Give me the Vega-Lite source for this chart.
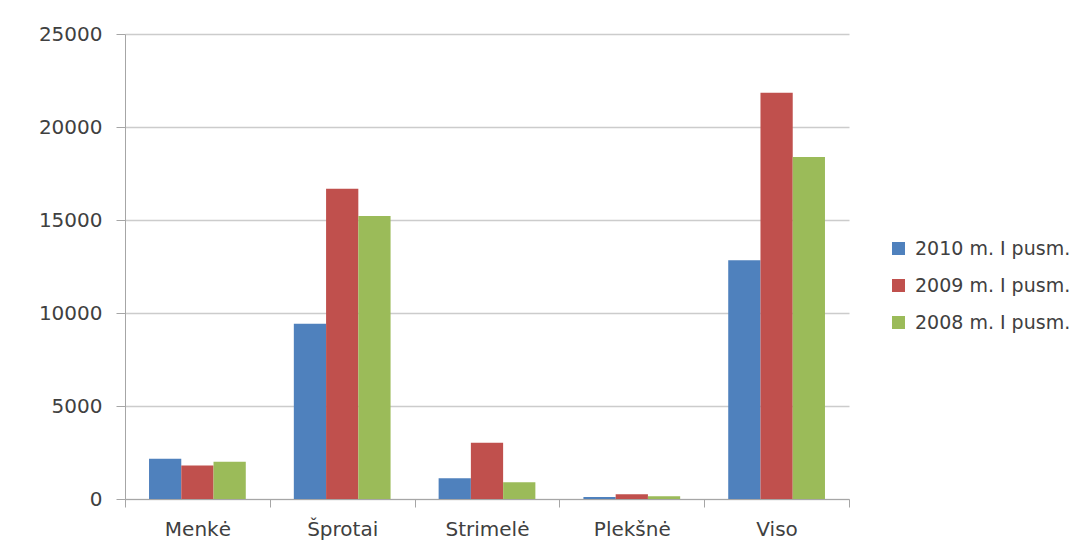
{
  "$schema": "https://vega.github.io/schema/vega-lite/v6.json",
  "width": 724,
  "height": 465,
  "autosize": "none",
  "padding": {"left": 125, "top": 34, "right": 237, "bottom": 56},
  "background": "white",
  "config": {
    "view": {"stroke": null},
    "font": "DejaVu Sans"
  },
  "data": {
    "values": [
      {"category": "Menkė", "series": "2010 m. I pusm.", "value": 2158},
      {"category": "Menkė", "series": "2009 m. I pusm.", "value": 1800},
      {"category": "Menkė", "series": "2008 m. I pusm.", "value": 1996},
      {"category": "Šprotai", "series": "2010 m. I pusm.", "value": 9417},
      {"category": "Šprotai", "series": "2009 m. I pusm.", "value": 16680},
      {"category": "Šprotai", "series": "2008 m. I pusm.", "value": 15210},
      {"category": "Strimelė", "series": "2010 m. I pusm.", "value": 1115},
      {"category": "Strimelė", "series": "2009 m. I pusm.", "value": 3020},
      {"category": "Strimelė", "series": "2008 m. I pusm.", "value": 900},
      {"category": "Plekšnė", "series": "2010 m. I pusm.", "value": 108},
      {"category": "Plekšnė", "series": "2009 m. I pusm.", "value": 250},
      {"category": "Plekšnė", "series": "2008 m. I pusm.", "value": 144},
      {"category": "Viso", "series": "2010 m. I pusm.", "value": 12840},
      {"category": "Viso", "series": "2009 m. I pusm.", "value": 21840},
      {"category": "Viso", "series": "2008 m. I pusm.", "value": 18390}
    ]
  },
  "mark": {"type": "bar"},
  "encoding": {
    "x": {
      "field": "category",
      "type": "nominal",
      "sort": ["Menkė", "Šprotai", "Strimelė", "Plekšnė", "Viso"],
      "scale": {"paddingInner": 0, "paddingOuter": 0},
      "axis": {
        "title": null,
        "labelAngle": 0,
        "tickBand": "extent",
        "labelFontSize": 20,
        "labelColor": "#404040",
        "labelPadding": 12,
        "domainColor": "#a6a6a6",
        "tickColor": "#a6a6a6",
        "tickSize": 8,
        "grid": false
      }
    },
    "xOffset": {
      "field": "series",
      "type": "nominal",
      "sort": ["2010 m. I pusm.", "2009 m. I pusm.", "2008 m. I pusm."],
      "scale": {"paddingInner": 0, "paddingOuter": 0.745}
    },
    "y": {
      "field": "value",
      "type": "quantitative",
      "scale": {"domain": [0, 25000], "nice": false},
      "axis": {
        "title": null,
        "values": [0, 5000, 10000, 15000, 20000, 25000],
        "format": "d",
        "labelFontSize": 20,
        "labelColor": "#404040",
        "labelPadding": 14,
        "tickSize": 9,
        "tickColor": "#a6a6a6",
        "domainColor": "#a6a6a6",
        "gridColor": "#cccccc",
        "gridWidth": 1.5
      }
    },
    "color": {
      "field": "series",
      "type": "nominal",
      "sort": ["2010 m. I pusm.", "2009 m. I pusm.", "2008 m. I pusm."],
      "scale": {
        "domain": ["2010 m. I pusm.", "2009 m. I pusm.", "2008 m. I pusm."],
        "range": ["#4F81BD", "#C0504D", "#9BBB59"]
      },
      "legend": {
        "title": null,
        "orient": "none",
        "legendX": 764,
        "legendY": 205,
        "symbolType": "square",
        "symbolSize": 169,
        "symbolStrokeWidth": 0,
        "labelFontSize": 19,
        "labelColor": "#404040",
        "labelOffset": 7,
        "rowPadding": 17
      }
    }
  }
}
